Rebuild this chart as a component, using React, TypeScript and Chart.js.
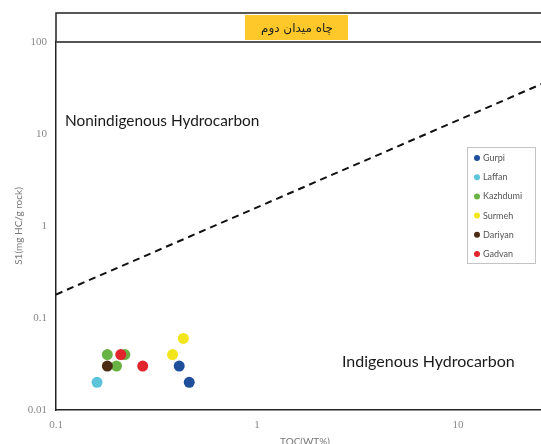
import React, { useEffect, useRef } from 'react';
import { Chart, registerables } from 'chart.js';

Chart.register(...registerables);

// ---- data ----
const seriesNames = ['Gurpi', 'Laffan', 'Kazhdumi', 'Surmeh', 'Dariyan', 'Gadvan'];
const seriesColors = ['#1F4E9B', '#5BC3DA', '#69B244', '#F2E51B', '#4A2A12', '#E1252D'];

const gurpiTOC = [0.41, 0.46];
const gurpiS1 = [0.03, 0.02];
const laffanTOC = [0.16];
const laffanS1 = [0.02];
const kazhdumiTOC = [0.18, 0.2, 0.22];
const kazhdumiS1 = [0.04, 0.03, 0.04];
const surmehTOC = [0.38, 0.43];
const surmehS1 = [0.04, 0.06];
const dariyanTOC = [0.18];
const dariyanS1 = [0.03];
const gadvanTOC = [0.21, 0.27];
const gadvanS1 = [0.04, 0.03];

const seriesTOC = [gurpiTOC, laffanTOC, kazhdumiTOC, surmehTOC, dariyanTOC, gadvanTOC];
const seriesS1 = [gurpiS1, laffanS1, kazhdumiS1, surmehS1, dariyanS1, gadvanS1];

const boundaryTOC = [0.1, 30];
const boundaryS1 = [0.18, 40];

const xTicks = [0.1, 1, 10];
const yTicks = [0.01, 0.1, 1, 10, 100];
const xMin = 0.1;
const xMax = 30;
const yMin = 0.01;
const yMax = 100;

const chartTitle = 'چاه میدان دوم';
const xTitle = 'TOC(WT%)';
const yTitle = 'S1(mg HC/g rock)';
const upperLabel = 'Nonindigenous Hydrocarbon';
const lowerLabel = 'Indigenous Hydrocarbon';

const VIEW_W = 541;
const VIEW_H = 444;
const CANVAS_W = 560;

const decorPlugin = {
  id: 'decor',
  afterDraw(chart: any) {
    const { ctx, chartArea } = chart;
    ctx.save();
    // frame above plot (title band)
    ctx.strokeStyle = '#222';
    ctx.lineWidth = 1.5;
    ctx.beginPath();
    ctx.moveTo(chartArea.left, chartArea.top);
    ctx.lineTo(chartArea.left, 13);
    ctx.lineTo(chart.width, 13);
    ctx.stroke();

    // title box
    ctx.fillStyle = '#FFC82A';
    ctx.fillRect(245, 15, 103, 25);
    ctx.fillStyle = '#222';
    ctx.font = '12px "DejaVu Sans"';
    ctx.textAlign = 'center';
    ctx.textBaseline = 'middle';
    ctx.fillText(chartTitle, 297, 29);

    // region labels
    ctx.fillStyle = '#1a1a1a';
    ctx.textAlign = 'left';
    ctx.font = '15.4px Lato';
    ctx.fillText(upperLabel, chartArea.left + 9, 121);
    ctx.font = '16px Lato';
    ctx.fillText(lowerLabel, 342, 362);

    // legend
    ctx.strokeStyle = '#c4c4c4';
    ctx.lineWidth = 1;
    ctx.strokeRect(467.5, 147.5, 68, 116);
    ctx.font = '9px Lato';
    ctx.textBaseline = 'middle';
    seriesNames.forEach((name, i) => {
      const cy = 158 + i * 19.2;
      ctx.fillStyle = seriesColors[i];
      ctx.beginPath();
      ctx.arc(477, cy, 3, 0, Math.PI * 2);
      ctx.fill();
      ctx.fillStyle = '#555';
      ctx.fillText(name, 483, cy);
    });
    ctx.restore();
  },
};

export default function App() {
  const ref = useRef<HTMLCanvasElement | null>(null);

  useEffect(() => {
    if (!ref.current) return;
    Chart.defaults.font.family = 'Lato';
    const pointSets = seriesNames.map((name, i) => ({
      type: 'scatter' as const,
      label: name,
      data: seriesTOC[i].map((t, j) => ({ x: t, y: seriesS1[i][j] })),
      backgroundColor: seriesColors[i],
      borderWidth: 0,
      pointRadius: 5.5,
      order: seriesNames.length - i,
    }));
    const chart = new Chart(ref.current, {
      type: 'scatter',
      data: {
        datasets: [
          {
            type: 'line' as const,
            label: 'boundary',
            data: boundaryTOC.map((t, j) => ({ x: t, y: boundaryS1[j] })),
            borderColor: '#111',
            borderWidth: 2,
            borderDash: [7, 5],
            pointRadius: 0,
            fill: false,
            order: 20,
          } as any,
          ...pointSets,
        ],
      },
      options: {
        animation: false,
        responsive: false,
        devicePixelRatio: 1,
        events: [],
        layout: { padding: { top: 42, right: 6, bottom: -4, left: 0 } },
        plugins: {
          legend: { display: false },
          tooltip: { enabled: false },
          title: { display: false },
        },
        scales: {
          x: {
            type: 'logarithmic',
            position: 'bottom',
            min: xMin,
            max: xMax,
            afterBuildTicks: (s: any) => {
              s.ticks = xTicks.map((v) => ({ value: v }));
            },
            afterFit: (s: any) => {
              s.height = 38;
            },
            ticks: {
              color: '#888',
              padding: 9,
              maxRotation: 0,
              font: { family: 'Liberation Serif', size: 11 },
              callback: (v: any) => String(v),
            },
            grid: { display: false, drawTicks: false },
            border: { display: true, color: '#222', width: 1.5 },
            title: {
              display: true,
              text: xTitle,
              color: '#777',
              font: { family: 'Lato', size: 10 },
              padding: { top: 0, bottom: 0 },
            },
          },
          y: {
            type: 'logarithmic',
            min: yMin,
            max: yMax,
            afterBuildTicks: (s: any) => {
              s.ticks = yTicks.map((v) => ({ value: v }));
            },
            afterFit: (s: any) => {
              s.width = 56;
            },
            ticks: {
              color: '#888',
              padding: 9,
              font: { family: 'Liberation Serif', size: 11 },
              callback: (v: any) => String(v),
            },
            grid: {
              drawTicks: false,
              lineWidth: 2,
              color: (c: any) => (c.tick && c.tick.value === yMax ? '#555' : 'rgba(0,0,0,0)'),
            },
            border: { display: true, color: '#222', width: 1.5 },
            title: {
              display: true,
              text: yTitle,
              color: '#777',
              font: { family: 'Lato', size: 10 },
              padding: { top: 13, bottom: 0 },
            },
          },
        },
      },
      plugins: [decorPlugin],
    } as any);
    return () => chart.destroy();
  }, []);

  return (
    <div
      style={{
        position: 'fixed',
        left: 0,
        top: 0,
        width: VIEW_W,
        height: VIEW_H,
        overflow: 'hidden',
        background: '#fff',
      }}
    >
      <canvas ref={ref} width={CANVAS_W} height={VIEW_H} style={{ display: 'block' }} />
    </div>
  );
}
